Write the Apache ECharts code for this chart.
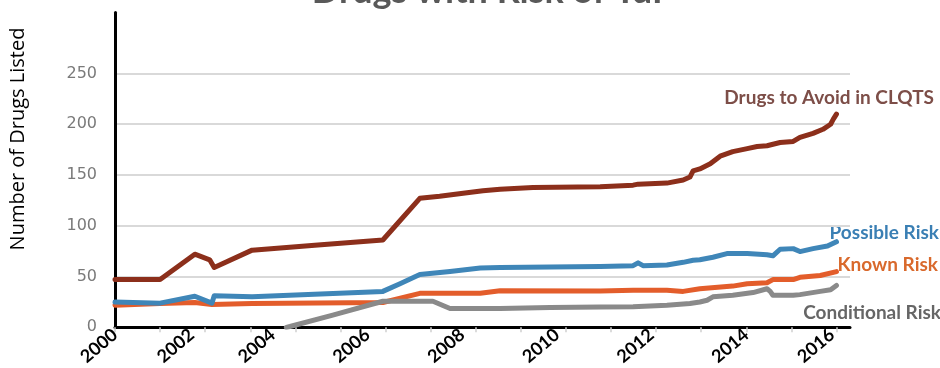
<!DOCTYPE html>
<html><head><meta charset="utf-8">
<script src="https://cdn.jsdelivr.net/npm/echarts@6/dist/echarts.min.js"></script>
<style>html,body{margin:0;padding:0;background:#fff}#c{width:940px;height:368px}</style>
</head><body><div id="c"></div>
<script>
// x = position step along the (irregular) date axis of the original chart
const yearLabels = ['2000','2002','2004','2006','2008','2010','2012','2014','2016'];
const yearLabelStep = [0, 17, 35, 56, 77, 98, 119, 140, 159];
const tickSteps = [0,10,20,30,40,50,60,70,80,90,100,110,120,130,140,150,160];
const yTicks = [0, 50, 100, 150, 200, 250];

const avoidCLQTS = [[0,47],[10,47],[17.7,72],[21,66.5],[22,59],[30.4,76],[45,81],[59.4,86],[67.6,127],[72,129],[77.2,132],[81.6,134.5],[85.4,136],[92.7,137.7],[107.6,138.5],[114.9,140],[116,141],[122.4,142],[126,145],[127.5,148],[128.2,154],[129.7,156],[132,161],[134.2,168.5],[137,173],[140.2,176],[142.4,178],[144.6,178.8],[145.7,180],[145.9,178.5],[147.5,182],[150.4,183],[151.9,187],[154.8,191],[157,195],[158.7,200],[159.3,205],[160,210]];
const possibleRisk = [[0,25],[10,23.8],[17.7,30.6],[21.5,23.8],[22,31],[30.4,30],[59.4,35.4],[63.2,43],[67.6,52],[74.3,55],[81,58.4],[85.4,59],[107.6,60],[114.9,60.7],[116,63.5],[117.1,60.7],[122.4,61.3],[126,64],[128.2,66],[129.7,66.5],[132.6,69],[135.7,72.6],[140.2,72.6],[144.6,71.4],[145.9,70.4],[147.5,76.9],[150.4,77.5],[151.9,74.6],[154.8,77.5],[158,80],[160,84.3]];
const knownRisk = [[0,21.8],[10,23.5],[17.7,24.5],[21.5,22.5],[30.4,23.5],[59.4,24.5],[67.6,33.5],[81,33.5],[85.4,36],[107.6,35.8],[114.9,36.4],[122.4,36.4],[126,35.4],[129.7,38],[137,40.6],[140.2,43],[144.6,43.9],[145.9,47],[150.4,47],[151.9,49.3],[156.4,51],[160,54.9]];
const conditionalRisk = [[38,0],[38.8,0.8],[48.3,12],[59.4,25.7],[70.5,25.7],[74.3,18.6],[85.4,18.6],[96.5,19.5],[107.6,20],[114.9,20.3],[122.4,21.8],[127.5,23.5],[129.7,25],[131.3,26.7],[132.6,30],[137,31.6],[141.5,34.2],[144.6,38],[145.3,35.4],[145.9,31.6],[150.4,31.6],[151.9,32.2],[156.4,35.4],[158.7,37],[160,41.3]];

const chart = echarts.init(document.getElementById('c'));
const lineSeries = (name, data, color, w) => ({
  name, type: 'line', data, showSymbol: false, symbol: 'none', smooth: false,
  lineStyle: { color, width: w, cap: 'round', join: 'round' }, z: 3
});
chart.setOption({
  animation: false,
  backgroundColor: '#fff',
  grid: { left: 115, right: 90, top: 12.5, bottom: 35.5, containLabel: false },
  xAxis: {
    type: 'value', min: 0, max: 163,
    axisLine: { show: true, lineStyle: { color: '#000', width: 3 } },
    axisTick: { show: true, customValues: tickSteps, length: 5, lineStyle: { color: '#d0d0d0', width: 1.5 } },
    axisLabel: {
      customValues: yearLabelStep,
      formatter: v => yearLabels[yearLabelStep.indexOf(v)] || '',
      rotate: 40, margin: 5, color: '#000', fontWeight: 'bold', fontSize: 18, fontFamily: 'Lato'
    },
    splitLine: { show: false }
  },
  yAxis: {
    type: 'value', min: 0, max: 310, interval: 50,
    axisLine: { show: true, lineStyle: { color: '#000', width: 3 } },
    axisTick: { show: false },
    axisLabel: {
      formatter: v => (yTicks.indexOf(v) >= 0 ? String(v) : ''),
      margin: 18, color: '#7a7a7a', fontSize: 16, fontFamily: 'DejaVu Sans'
    },
    splitLine: { show: true, showMaxLine: false, lineStyle: { color: ['#d9d9d9','#d9d9d9','#d9d9d9','#d9d9d9','#d9d9d9','#d9d9d9','rgba(0,0,0,0)','rgba(0,0,0,0)'], width: 2 } }
  },
  series: [
    lineSeries('Known Risk', knownRisk, '#e35d2b', 5),
    lineSeries('Possible Risk', possibleRisk, '#3f86b8', 5),
    lineSeries('Conditional Risk', conditionalRisk, '#8a8a8a', 5),
    lineSeries('Drugs to Avoid in CLQTS', avoidCLQTS, '#8c2f1b', 5)
  ],
  graphic: [
    { type: 'text', x: 493, y: 9, style: { text: 'Drugs with Risk of TdP', textAlign: 'center', textVerticalAlign: 'bottom', fill: '#595959', font: 'bold 36px Lato' } },
    { type: 'text', x: 18, y: 139, rotation: Math.PI / 2, style: { text: 'Number of Drugs Listed', textAlign: 'center', textVerticalAlign: 'middle', fill: '#000000', font: '20px "Open Sans"' } },
    { type: 'text', x: 934, y: 98, style: { text: 'Drugs to Avoid in CLQTS', textAlign: 'right', textVerticalAlign: 'middle', fill: '#7d4e48', font: 'bold 19px Lato' } },
    { type: 'text', x: 939, y: 233, style: { text: 'Possible Risk', textAlign: 'right', textVerticalAlign: 'middle', fill: '#3a7fb4', font: 'bold 19px Lato' } },
    { type: 'text', x: 938, y: 265, style: { text: 'Known Risk', textAlign: 'right', textVerticalAlign: 'middle', fill: '#d9692c', font: 'bold 19px Lato' } },
    { type: 'text', x: 941, y: 313, style: { text: 'Conditional Risk', textAlign: 'right', textVerticalAlign: 'middle', fill: '#666666', font: 'bold 19px Lato' } }
  ]
});
</script></body></html>
